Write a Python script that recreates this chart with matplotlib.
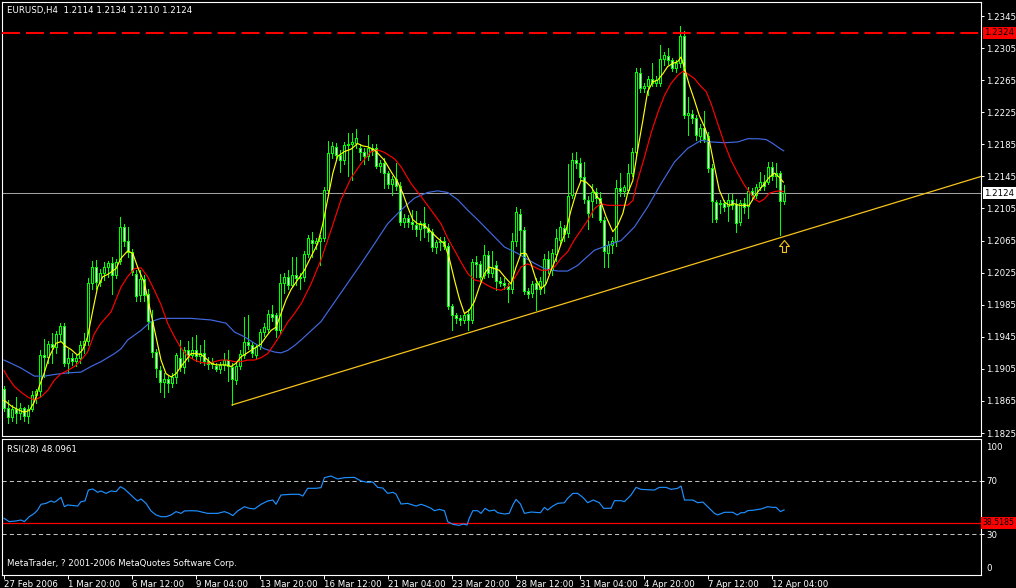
import matplotlib
matplotlib.use("Agg")
import matplotlib.pyplot as plt
import numpy as np
from matplotlib.path import Path

plt.rcParams["font.family"] = "DejaVu Sans"

# --- H4 bars, EURUSD 27 Feb 2006 (04:00) .. 12 Apr 2006 ---
open_ = [
    1.1880, 1.1856, 1.1845, 1.1855, 1.1850, 1.1856, 1.1846, 1.1855, 1.1872, 1.1877,
    1.1922, 1.1920, 1.1936, 1.1932, 1.1948, 1.1958, 1.1912, 1.1918, 1.1915, 1.1918,
    1.1935, 1.1940, 1.2012, 1.2032, 1.2013, 1.2024, 1.2032, 1.2037, 1.2022, 1.2040,
    1.2082, 1.2064, 1.2051, 1.2023, 1.1997, 1.2017, 1.1998, 1.1965, 1.1926, 1.1904,
    1.1889, 1.1893, 1.1887, 1.1895, 1.1918, 1.1907, 1.1928, 1.1922, 1.1929, 1.1921,
    1.1925, 1.1915, 1.1911, 1.1908, 1.1905, 1.1910, 1.1916, 1.1907, 1.1891, 1.1908,
    1.1922, 1.1939, 1.1935, 1.1922, 1.1934, 1.1951, 1.1955, 1.1973, 1.1972, 1.1953,
    1.2012, 1.2020, 1.2010, 1.2022, 1.2018, 1.2020, 1.2048, 1.2066, 1.2062, 1.2064,
    1.2068, 1.2128, 1.2174, 1.2182, 1.2172, 1.2166, 1.2184, 1.2186, 1.2187, 1.2180,
    1.2176, 1.2170, 1.2181, 1.2180, 1.2158, 1.2162, 1.2149, 1.2136, 1.2142, 1.2133,
    1.2088, 1.2093, 1.2088, 1.2085, 1.2080, 1.2087, 1.2081, 1.2076, 1.2057, 1.2063,
    1.2065, 1.2058, 1.1983, 1.1972, 1.1969, 1.1966, 1.1973, 1.1966, 1.2038, 1.2036,
    1.2022, 1.2047, 1.2024, 1.2034, 1.2014, 1.2012, 1.2008, 1.2004, 1.2064, 1.2098,
    1.2078, 1.2002, 1.1999, 1.2012, 1.2004, 1.2010, 1.2042, 1.2028, 1.2048, 1.2066,
    1.2081, 1.2074, 1.2122, 1.2166, 1.2162, 1.2144, 1.2115, 1.2114, 1.2126, 1.2118,
    1.2091, 1.2050, 1.2060, 1.2064, 1.2130, 1.2127, 1.2128, 1.2149, 1.2176, 1.2274,
    1.2255, 1.2258, 1.2266, 1.2262, 1.2262, 1.2291, 1.2295, 1.2290, 1.2280, 1.2286,
    1.2320, 1.2222, 1.2223, 1.2218, 1.2195, 1.2205, 1.2195, 1.2156, 1.2113, 1.2110,
    1.2112, 1.2108, 1.2116, 1.2110, 1.2088, 1.2112, 1.2108, 1.2127, 1.2122, 1.2132,
    1.2138, 1.2138, 1.2157, 1.2145, 1.2149, 1.2114,
]
high = [
    1.1884, 1.1866, 1.1860, 1.1870, 1.1862, 1.1858, 1.1860, 1.1878, 1.1880, 1.1928,
    1.1942, 1.1940, 1.1950, 1.1952, 1.1962, 1.1962, 1.1930, 1.1925, 1.1922, 1.1940,
    1.1950, 1.2018, 1.2040, 1.2041, 1.2030, 1.2038, 1.2040, 1.2045, 1.2042, 1.2095,
    1.2086, 1.2082, 1.2055, 1.2028, 1.2028, 1.2022, 1.2004, 1.1978, 1.1930, 1.1908,
    1.1900, 1.1896, 1.1900, 1.1925, 1.1941, 1.1932, 1.1940, 1.1945, 1.1947, 1.1935,
    1.1941, 1.1920, 1.1918, 1.1912, 1.1914, 1.1925, 1.1928, 1.1912, 1.1912, 1.1928,
    1.1970, 1.1972, 1.1938, 1.1935, 1.1955, 1.1962, 1.1978, 1.1985, 1.1975, 1.2023,
    1.2025, 1.2028, 1.2044, 1.2045, 1.2025, 1.2052, 1.2072, 1.2076, 1.2068, 1.2072,
    1.2132, 1.2189, 1.2188, 1.2187, 1.2178, 1.2188, 1.2199, 1.2199, 1.2204, 1.2186,
    1.2180, 1.2197, 1.2185, 1.2185, 1.2166, 1.2168, 1.2152, 1.2145, 1.2162, 1.2138,
    1.2098, 1.2097, 1.2103, 1.2102, 1.2090, 1.2107, 1.2086, 1.2080, 1.2066, 1.2070,
    1.2070, 1.2062, 1.1986, 1.1975, 1.1972, 1.1975, 1.1980, 1.2042, 1.2046, 1.2040,
    1.2059, 1.2052, 1.2052, 1.2040, 1.2020, 1.2018, 1.2012, 1.2074, 1.2107, 1.2104,
    1.2082, 1.2006, 1.2014, 1.2018, 1.2020, 1.2048, 1.2052, 1.2055, 1.2080, 1.2090,
    1.2085, 1.2161, 1.2174, 1.2175, 1.2168, 1.2163, 1.2120, 1.2136, 1.2130, 1.2126,
    1.2095, 1.2064, 1.2070, 1.2140, 1.2149, 1.2134, 1.2161, 1.2180, 1.2280, 1.2280,
    1.2262, 1.2270, 1.2286, 1.2270, 1.2309, 1.2300, 1.2305, 1.2293, 1.2290, 1.2333,
    1.2326, 1.2244, 1.2228, 1.2222, 1.2210, 1.2226, 1.2200, 1.2160, 1.2115, 1.2115,
    1.2116, 1.2123, 1.2123, 1.2117, 1.2116, 1.2118, 1.2132, 1.2130, 1.2136, 1.2150,
    1.2147, 1.2163, 1.2163, 1.2162, 1.2152, 1.2134,
]
low = [
    1.1852, 1.1837, 1.1840, 1.1838, 1.1842, 1.1840, 1.1838, 1.1852, 1.1862, 1.1870,
    1.1895, 1.1912, 1.1912, 1.1925, 1.1940, 1.1908, 1.1900, 1.1910, 1.1908, 1.1912,
    1.1925, 1.1935, 1.2005, 1.2005, 1.2008, 1.2016, 1.2020, 1.1998, 1.2018, 1.2036,
    1.2058, 1.2045, 1.2022, 1.1990, 1.1990, 1.1990, 1.1955, 1.1920, 1.1895, 1.1876,
    1.1870, 1.1876, 1.1882, 1.1888, 1.1902, 1.1900, 1.1915, 1.1918, 1.1915, 1.1912,
    1.1910, 1.1905, 1.1906, 1.1902, 1.1900, 1.1904, 1.1890, 1.1860, 1.1886, 1.1905,
    1.1918, 1.1930, 1.1920, 1.1918, 1.1930, 1.1946, 1.1950, 1.1965, 1.1945, 1.1950,
    1.2000, 1.2005, 1.2008, 1.2010, 1.2005, 1.2015, 1.2045, 1.2045, 1.2055, 1.2035,
    1.2064, 1.2125, 1.2168, 1.2168, 1.2150, 1.2160, 1.2145, 1.2141, 1.2180, 1.2166,
    1.2160, 1.2165, 1.2172, 1.2155, 1.2150, 1.2130, 1.2130, 1.2122, 1.2128, 1.2084,
    1.2082, 1.2082, 1.2080, 1.2071, 1.2066, 1.2070, 1.2064, 1.2052, 1.2050, 1.2053,
    1.2054, 1.1980, 1.1953, 1.1962, 1.1960, 1.1962, 1.1953, 1.1962, 1.2020, 1.2015,
    1.2018, 1.2020, 1.2020, 1.2003, 1.2008, 1.2004, 1.1989, 1.2000, 1.2058, 1.2050,
    1.1998, 1.1993, 1.1995, 1.1978, 1.1998, 1.2000, 1.2025, 1.2022, 1.2040, 1.2060,
    1.2065, 1.2070, 1.2118, 1.2155, 1.2140, 1.2112, 1.2080, 1.2095, 1.2112, 1.2088,
    1.2032, 1.2032, 1.2050, 1.2058, 1.2120, 1.2120, 1.2124, 1.2145, 1.2172, 1.2250,
    1.2250, 1.2246, 1.2258, 1.2258, 1.2258, 1.2284, 1.2285, 1.2276, 1.2275, 1.2282,
    1.2218, 1.2197, 1.2212, 1.2190, 1.2188, 1.2188, 1.2150, 1.2088, 1.2088, 1.2100,
    1.2102, 1.2090, 1.2104, 1.2076, 1.2085, 1.2100, 1.2093, 1.2115, 1.2118, 1.2128,
    1.2128, 1.2135, 1.2140, 1.2132, 1.2072, 1.2110,
]
close = [
    1.1856, 1.1845, 1.1855, 1.1850, 1.1856, 1.1846, 1.1855, 1.1872, 1.1877, 1.1922,
    1.1920, 1.1936, 1.1932, 1.1948, 1.1958, 1.1912, 1.1918, 1.1915, 1.1918, 1.1935,
    1.1940, 1.2012, 1.2032, 1.2013, 1.2024, 1.2032, 1.2037, 1.2022, 1.2038, 1.2082,
    1.2064, 1.2051, 1.2026, 1.1996, 1.2017, 1.1997, 1.1965, 1.1926, 1.1906, 1.1889,
    1.1893, 1.1887, 1.1895, 1.1922, 1.1907, 1.1928, 1.1922, 1.1929, 1.1921, 1.1925,
    1.1915, 1.1911, 1.1913, 1.1905, 1.1910, 1.1916, 1.1908, 1.1893, 1.1908, 1.1924,
    1.1939, 1.1935, 1.1925, 1.1932, 1.1951, 1.1957, 1.1973, 1.1970, 1.1953, 1.2012,
    1.2020, 1.2010, 1.2022, 1.2018, 1.2020, 1.2048, 1.2068, 1.2062, 1.2064, 1.2068,
    1.2128, 1.2174, 1.2183, 1.2172, 1.2166, 1.2184, 1.2186, 1.2188, 1.2193, 1.2176,
    1.2170, 1.2181, 1.2177, 1.2158, 1.2162, 1.2149, 1.2136, 1.2142, 1.2133, 1.2088,
    1.2093, 1.2088, 1.2086, 1.2080, 1.2087, 1.2081, 1.2076, 1.2057, 1.2063, 1.2065,
    1.2058, 1.1983, 1.1972, 1.1969, 1.1966, 1.1972, 1.1966, 1.2038, 1.2036, 1.2020,
    1.2047, 1.2024, 1.2032, 1.2014, 1.2012, 1.2009, 1.2004, 1.2064, 1.2101, 1.2078,
    1.2002, 1.1998, 1.2011, 1.2004, 1.2015, 1.2042, 1.2030, 1.2050, 1.2068, 1.2082,
    1.2073, 1.2120, 1.2166, 1.2162, 1.2144, 1.2117, 1.2100, 1.2126, 1.2118, 1.2091,
    1.2052, 1.2060, 1.2064, 1.2130, 1.2127, 1.2132, 1.2149, 1.2176, 1.2275, 1.2255,
    1.2258, 1.2266, 1.2262, 1.2265, 1.2291, 1.2296, 1.2290, 1.2280, 1.2286, 1.2320,
    1.2222, 1.2224, 1.2218, 1.2197, 1.2206, 1.2192, 1.2156, 1.2114, 1.2092, 1.2112,
    1.2107, 1.2116, 1.2109, 1.2087, 1.2112, 1.2107, 1.2127, 1.2122, 1.2132, 1.2138,
    1.2133, 1.2157, 1.2145, 1.2149, 1.2114, 1.2124,
]

# moving averages (bar index, price)
ma_fast_x = [0, 2, 4, 5, 6.3, 7.6, 8.8, 10, 11.3, 13, 14.3, 15.5, 16.8, 18.4, 19.7, 20.9,
             22.2, 23.4, 24.7, 26, 28, 29.25, 30.9, 32.2, 33.4, 35.1, 36.75, 38, 39.25,
             40.5, 41.75, 43, 44.25, 45.5, 46.75, 48, 49.25, 50.5, 51.75, 53, 55.5, 56.75,
             58, 59.25, 60.5, 61.75, 63, 64.25, 65.5, 66.75, 68, 69.25, 70.5, 71.75, 73.4,
             75.1, 76.75, 78.4, 79.7, 80.9, 82.2, 83.4, 85.1, 86.75, 88.4, 89.7, 90.9, 92.6,
             93.8, 95.1, 96.75, 98.4, 99.7, 100.9, 102.2, 103.4, 105.1, 106.75, 108.4,
             110.1, 111.3, 112.6, 113.8, 115.1, 116.3, 117.6, 118.8, 120.1, 121.3, 122.6,
             123.8, 125.1, 126.75, 128, 129.25, 130.5, 131.75, 133, 134.25, 135.5, 136.75,
             138, 139.25, 140.5, 141.75, 143, 144.25, 145.5, 146.75, 148, 149.25, 150.5,
             152.2, 153.4, 154.7, 155.9, 157.2, 158.4, 159.7, 160.9, 162.2, 163.4, 164.7,
             165.9, 167.2, 168.4, 169.25, 170.1, 171.3, 172.6, 173.8, 175.1, 176.3, 177.6,
             178.8, 180.1, 181.3, 182.6, 183.8, 186.3, 187.6, 188.8, 190.1, 191.3, 192.6,
             193.8, 194.8]
ma_fast = [1.1866, 1.1858, 1.1853, 1.1851, 1.1853, 1.1864, 1.1883, 1.1899, 1.1920, 1.1937,
           1.1939, 1.1933, 1.1929, 1.1922, 1.1929, 1.1945, 1.1978, 1.2007, 1.2020, 1.2023,
           1.2030, 1.2043, 1.2052, 1.2049, 1.2032, 1.2012, 1.1974, 1.1945, 1.1916, 1.1899,
           1.1895, 1.1899, 1.1908, 1.1916, 1.1924, 1.1924, 1.1923, 1.1918, 1.1912, 1.1910,
           1.1910, 1.1908, 1.1912, 1.1920, 1.1924, 1.1928, 1.1932, 1.1936, 1.1945, 1.1953,
           1.1957, 1.1974, 1.1991, 1.2004, 1.2016, 1.2028, 1.2045, 1.2061, 1.2086, 1.2116,
           1.2149, 1.2170, 1.2176, 1.2179, 1.2186, 1.2183, 1.2182, 1.2178, 1.2172, 1.2165,
           1.2151, 1.2138, 1.2124, 1.2107, 1.2091, 1.2086, 1.2084, 1.2076, 1.2068, 1.2061,
           1.2043, 1.2016, 1.1993, 1.1974, 1.1978, 1.1989, 1.2007, 1.2024, 1.2032, 1.2030,
           1.2028, 1.2020, 1.2011, 1.2032, 1.2049, 1.2049, 1.2036, 1.2016, 1.2005, 1.2011,
           1.2028, 1.2043, 1.2061, 1.2078, 1.2103, 1.2124, 1.2140, 1.2138, 1.2132, 1.2122,
           1.2113, 1.2095, 1.2076, 1.2084, 1.2099, 1.2124, 1.2140, 1.2178, 1.2215, 1.2251,
           1.2263, 1.2265, 1.2273, 1.2282, 1.2286, 1.2288, 1.2294, 1.2280, 1.2259, 1.2240,
           1.2221, 1.2207, 1.2190, 1.2157, 1.2128, 1.2113, 1.2109, 1.2111, 1.2109, 1.2109,
           1.2120, 1.2128, 1.2136, 1.2144, 1.2149, 1.2144, 1.2138]

ma_mid_x = [0, 0.9, 2.6, 4.25, 5.9, 7.6, 9.25, 10.9, 12.6, 14.25, 15.9, 17.6, 19.25, 20.9,
            22.6, 24.25, 26.75, 29.25, 30.9, 32.6, 34.25, 35.9, 37.6, 39.25, 40.9, 42.6,
            44.25, 45.9, 47.6, 49.25, 50.9, 52.6, 54.25, 55.9, 57.6, 59.25, 60.9, 62.6,
            64.25, 65.9, 67.6, 69.25, 70.9, 72.6, 74.25, 76.75, 79.25, 81.75, 84.25, 86.75,
            89.25, 91.75, 93.4, 95.1, 97.6, 99.25, 101.75, 104.25, 106.75, 109.25, 110.9,
            112.6, 114.25, 115.9, 117.6, 119.25, 120.9, 122.6, 124.25, 125.9, 127.6, 129.25,
            130.9, 132.6, 134.25, 135.9, 137.6, 139.25, 140.9, 142.6, 144.25, 145.9, 147.6,
            149.25, 150.9, 152.6, 154.25, 155.9, 157.2, 158.4, 160.1, 161.75, 163.4, 165.1,
            166.75, 168.4, 169.7, 170.9, 172.6, 174.25, 175.5, 176.75, 178.4, 180.1, 181.75,
            183.4, 185.1, 186.3, 187.6, 188.8, 190.1, 191.3, 192.6, 193.8, 194.8]
ma_mid = [1.1903, 1.1895, 1.1883, 1.1876, 1.1870, 1.1866, 1.1870, 1.1878, 1.1891, 1.1899,
          1.1903, 1.1908, 1.1916, 1.1926, 1.1949, 1.1962, 1.1976, 1.2007, 1.2020, 1.2030,
          1.2031, 1.2020, 1.2003, 1.1985, 1.1962, 1.1945, 1.1931, 1.1921, 1.1916, 1.1913,
          1.1912, 1.1914, 1.1916, 1.1916, 1.1914, 1.1914, 1.1916, 1.1916, 1.1919, 1.1924,
          1.1936, 1.1949, 1.1963, 1.1974, 1.1986, 1.2011, 1.2041, 1.2078, 1.2116, 1.2143,
          1.2161, 1.2176, 1.2178, 1.2175, 1.2167, 1.2157, 1.2136, 1.2120, 1.2103, 1.2086,
          1.2068, 1.2053, 1.2038, 1.2024, 1.2016, 1.2014, 1.2009, 1.2005, 1.2003, 1.2007,
          1.2018, 1.2032, 1.2036, 1.2032, 1.2028, 1.2028, 1.2032, 1.2043, 1.2051, 1.2066,
          1.2078, 1.2090, 1.2105, 1.2111, 1.2109, 1.2109, 1.2109, 1.2109, 1.2115, 1.2140,
          1.2169, 1.2199, 1.2224, 1.2246, 1.2261, 1.2271, 1.2276, 1.2273, 1.2267, 1.2257,
          1.2251, 1.2236, 1.2211, 1.2186, 1.2165, 1.2149, 1.2134, 1.2126, 1.2117, 1.2113,
          1.2117, 1.2124, 1.2126, 1.2127, 1.2126]

ma_slow_x = [0, 1.75, 4.25, 7.6, 10.1, 12.6, 15.9, 19.25, 21.75, 24.25, 27.6, 29.25, 30.9,
             34.25, 36.75, 39.25, 46.75, 51.75, 55.5, 57.6, 60.1, 62.6, 65.1, 67.6, 69.25,
             70.9, 72.6, 74.25, 79.25, 84.25, 89.25, 92.6, 95.9, 99.25, 102.6, 105.9, 108.4,
             110.9, 113.4, 115.9, 118.4, 121.75, 125.1, 128.4, 131.75, 135.1, 138.4, 140.9,
             143.4, 144.25, 147.6, 150.9, 154.25, 157.6, 160.9, 164.25, 167.6, 170.9, 174.25,
             176.75, 180.1, 183.4, 185.9, 188.4, 190.5, 192.2, 193.9, 194.9]
ma_slow = [1.1916, 1.1912, 1.1906, 1.1896, 1.1896, 1.1898, 1.1900, 1.1901, 1.1908, 1.1914,
           1.1924, 1.1930, 1.1941, 1.1953, 1.1964, 1.1968, 1.1968, 1.1966, 1.1962, 1.1951,
           1.1945, 1.1937, 1.1930, 1.1926, 1.1925, 1.1928, 1.1934, 1.1941, 1.1964, 1.2000,
           1.2036, 1.2061, 1.2086, 1.2103, 1.2118, 1.2125, 1.2127, 1.2125, 1.2116, 1.2103,
           1.2091, 1.2074, 1.2057, 1.2049, 1.2039, 1.2030, 1.2027, 1.2027, 1.2034, 1.2038,
           1.2053, 1.2059, 1.2065, 1.2082, 1.2107, 1.2136, 1.2163, 1.2180, 1.2190, 1.2188,
           1.2187, 1.2188, 1.2192, 1.2192, 1.2191, 1.2186, 1.2180, 1.2177]

# RSI(28)
rsi_x = [0, 1.3, 3, 4.25, 5.1, 6.3, 7.6, 8.4, 9.25, 10.5, 11.75, 12.6, 13.4, 14.25, 15.1,
         15.9, 18.4, 19.25, 20.25, 21.1, 22.2, 23.4, 24.25, 25.5, 26.75, 28, 29.1, 30.1,
         31.3, 32.6, 33.4, 34.25, 35.5, 36.75, 38, 39.25, 40.5, 41.75, 43, 44.25, 45.1,
         46.75, 48.4, 49.7, 50.9, 53.4, 55.1, 56.3, 57.2, 58.4, 60.1, 61.3, 62.6, 64.25,
         65.9, 67.2, 68, 69.25, 71.75, 73.8, 74.7, 75.9, 78, 79.25, 80.1, 81.75, 83.4,
         85.1, 87.6, 89.25, 90.9, 92.2, 93.4, 94.7, 95.9, 97.2, 98, 99.25, 100.9, 102.2,
         103, 104.25, 105.5, 106.75, 107.6, 108.8, 110.1, 110.9, 112.2, 113.8, 114.7,
         115.75, 116.3, 117.2, 118.4, 119.25, 120.25, 121.3, 122.6, 123.4, 125.1, 126.3,
         127.2, 128, 129.1, 130.1, 131.75, 134.1, 135.1, 135.9, 137.2, 138.4, 140.1, 140.9,
         142.2, 143.4, 144.7, 145.9, 147.3, 148.8, 149.9, 151.75, 152.6, 154.25, 155.1,
         156.75, 158, 159.25, 162.6, 163.8, 165.5, 166.75, 168.4, 169.25, 170.1, 172.2,
         173.4, 174.7, 176.3, 177.6, 178.4, 180.1, 182.2, 183.25, 184.25, 185.1, 185.9,
         187.6, 189.25, 190.9, 192.2, 193, 194.1, 195]
rsi = [41.8, 39.3, 39.8, 40.5, 39.3, 43.0, 45.5, 48.0, 52.3, 53.0, 54.8, 53.8, 55.5, 57.5,
       50.5, 51.8, 51.0, 54.3, 54.8, 63.0, 63.8, 61.3, 62.3, 60.5, 62.3, 61.8, 65.5, 63.8,
       60.5, 56.8, 54.8, 56.3, 53.0, 47.3, 44.3, 43.0, 43.0, 44.3, 46.8, 45.5, 47.3, 47.5,
       47.3, 46.3, 45.5, 45.5, 46.8, 45.5, 43.8, 47.3, 50.5, 49.3, 48.8, 52.3, 54.8, 55.5,
       52.3, 59.3, 59.8, 59.8, 58.5, 64.3, 64.3, 64.8, 72.3, 73.5, 71.3, 72.3, 72.5, 69.8,
       68.8, 69.0, 65.0, 64.5, 60.5, 61.3, 60.0, 52.5, 53.0, 51.8, 51.0, 52.3, 51.0, 49.3,
       47.5, 48.5, 47.5, 39.3, 37.3, 36.5, 37.5, 36.8, 41.8, 47.5, 47.5, 45.5, 49.3, 47.3,
       48.0, 46.0, 45.0, 45.5, 51.8, 56.0, 52.5, 45.5, 46.5, 46.0, 50.0, 48.0, 51.0, 53.0,
       53.5, 56.8, 60.5, 60.5, 57.5, 53.5, 55.5, 53.5, 49.3, 49.3, 55.0, 55.0, 54.3, 59.3,
       65.0, 63.5, 63.0, 65.0, 65.0, 63.5, 64.3, 66.0, 55.5, 55.5, 53.5, 54.0, 49.3, 45.5,
       44.3, 46.3, 46.3, 44.3, 46.0, 46.0, 47.5, 48.0, 48.8, 50.5, 50.0, 50.0, 46.8, 48.1]

# chart objects
red_level = 1.2324
rsi_level = 38.5185
rsi_bands = [70, 30]
trend_x = [57, 244.25]
trend_y = [1.1860, 1.2145]
arrow_x = 195
arrow_y = 1.2058

price_ticks = [1.1825, 1.1865, 1.1905, 1.1945, 1.1985, 1.2025, 1.2065, 1.2105,
               1.2145, 1.2185, 1.2225, 1.2265, 1.2305, 1.2345]
time_ticks = [0, 16, 32, 48, 64, 80, 96, 112, 128, 144, 160, 176, 192]
time_labels = ["27 Feb 2006", "1 Mar 20:00", "6 Mar 12:00", "9 Mar 04:00", "13 Mar 20:00",
               "16 Mar 12:00", "21 Mar 04:00", "23 Mar 20:00", "28 Mar 12:00",
               "31 Mar 04:00", "4 Apr 20:00", "7 Apr 12:00", "12 Apr 04:00"]

LIME = "#00FF00"
GOLD = "#F7C31B"
FS = 6.2
W, H = 1016, 588


def px_box(left, top, right, bottom):
    # axes rectangle from pixel edges of the screenshot
    return [left / W, 1 - bottom / H, (right - left) / W, (bottom - top) / H]


def style_axes(a):
    a.set_facecolor("black")
    for s in a.spines.values():
        s.set_color("white")
        s.set_linewidth(0.8)
    a.yaxis.tick_right()
    a.tick_params(axis="y", colors="white", length=2.5, width=0.7, pad=1.5, labelsize=FS)


fig = plt.figure(figsize=(W / 100, H / 100), dpi=100, facecolor="black")
ax = fig.add_axes(px_box(2, 2, 980.5, 436))
ax_rsi = fig.add_axes(px_box(2, 439, 980.5, 575))
style_axes(ax)
style_axes(ax_rsi)

o = np.array(open_)
h = np.array(high)
l = np.array(low)
c = np.array(close)
x = np.arange(len(c))
bull = c >= o

# price window: candles drawn pixel-crisp like the terminal
ax.axhline(c[-1], color="#A0A0A0", lw=0.75, zorder=1)
ax.vlines(x, l, h, color=LIME, lw=0.72, antialiased=False, zorder=2)
ax.bar(x, np.abs(c - o), bottom=np.minimum(o, c), width=0.56,
       color=np.where(bull, "black", "white"), edgecolor=LIME, linewidth=0.6,
       antialiased=False, zorder=3)
ax.plot(ma_slow_x, ma_slow, color="#4169E1", lw=0.85, zorder=4)
ax.plot(ma_mid_x, ma_mid, color="red", lw=0.85, zorder=4)
ax.plot(ma_fast_x, ma_fast, color="yellow", lw=0.85, zorder=5)
ax.axhline(red_level, color="red", lw=1.5, ls=(0, (8.6, 2.9)), zorder=6)
ax.plot(trend_x, trend_y, color=GOLD, lw=0.9, zorder=6)

arrow = Path([(0, 1), (0.83, 0), (0.33, 0), (0.33, -1), (-0.33, -1), (-0.33, 0), (-0.83, 0), (0, 1)],
             [Path.MOVETO] + [Path.LINETO] * 6 + [Path.CLOSEPOLY])
ax.plot(arrow_x, arrow_y, marker=arrow, ms=8.6, mfc="none", mec=GOLD, mew=0.8, zorder=7)

ax.set_xlim(-0.5, 244.1)
ax.set_ylim(1.18213, 1.23625)
ax.set_yticks(price_ticks)
ax.yaxis.set_major_formatter("{x:.4f}")
ax.tick_params(axis="x", bottom=False, labelbottom=False)

box = dict(boxstyle="square,pad=0.2", ec="none")
ax.text(1.004, red_level, f"{red_level:.4f}", transform=ax.get_yaxis_transform(),
        ha="left", va="center", color="black", fontsize=FS, bbox={**box, "fc": "red"}, clip_on=False)
ax.text(1.004, c[-1], f"{c[-1]:.4f}", transform=ax.get_yaxis_transform(),
        ha="left", va="center", color="black", fontsize=FS, bbox={**box, "fc": "white"}, clip_on=False)

# RSI window
for lvl in rsi_bands:
    ax_rsi.axhline(lvl, color="#C0C0C0", lw=0.75, ls=(0, (4, 3)), zorder=1)
ax_rsi.axhline(rsi_level, color="red", lw=0.9, zorder=2)
ax_rsi.plot(rsi_x, rsi, color="#1E90FF", lw=0.85, zorder=3)
ax_rsi.set_xlim(-0.5, 244.1)
ax_rsi.set_ylim(-0.75, 101.3)
ax_rsi.set_yticks(rsi_bands)
ax_rsi.set_yticklabels([str(v) for v in rsi_bands])
ax_rsi.text(1.006, 0.94, "100", transform=ax_rsi.transAxes, ha="left", va="center",
            color="white", fontsize=FS)
ax_rsi.text(1.006, 0.05, "0", transform=ax_rsi.transAxes, ha="left", va="center",
            color="white", fontsize=FS)
ax_rsi.text(1.002, rsi_level, f"{rsi_level:.4f}", transform=ax_rsi.get_yaxis_transform(),
            ha="left", va="center", color="black", fontsize=5.6,
            bbox={**box, "fc": "red"}, clip_on=False)

ax_rsi.set_xticks(time_ticks)
ax_rsi.set_xticklabels(time_labels, ha="left")
ax_rsi.tick_params(axis="x", colors="white", length=3, width=0.7, pad=0.5, labelsize=FS)

# window captions
title = f"EURUSD,H4  {o[-1]:.4f} {h[-1]:.4f} {l[-1]:.4f} {c[-1]:.4f}"
fig.text(7 / W, 1 - 10.5 / H, title, color="white", fontsize=FS, va="center")
fig.text(7 / W, 1 - 449.5 / H, "RSI(28) 48.0961", color="white", fontsize=FS, va="center")
fig.text(7 / W, 1 - 563 / H, "MetaTrader, ? 2001-2006 MetaQuotes Software Corp.",
         color="white", fontsize=FS, va="center")

fig.savefig("out.png", dpi=100, facecolor="black")
